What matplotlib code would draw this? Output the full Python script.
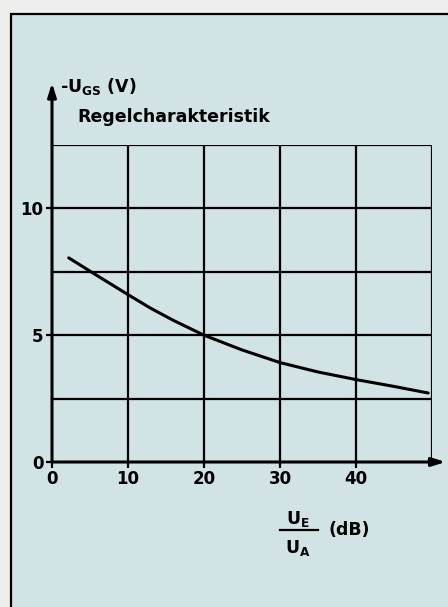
import matplotlib
matplotlib.use('Agg')
import matplotlib.pyplot as plt
from matplotlib.patches import Rectangle
from matplotlib.lines import Line2D

# Regelcharakteristik: -U_GS (V) over U_E/U_A (dB)
ratio_db = [2.2, 5.4, 10, 13, 16, 20, 25, 30, 35, 40, 45, 49.5]
ugs_neg = [8.05, 7.45, 6.6, 6.06, 5.58, 5.0, 4.42, 3.92, 3.55, 3.25, 2.98, 2.72]

x_ticks = [0, 10, 20, 30, 40, 50]
x_labels = ['0', '10', '20', '30', '40', '']
y_ticks = [0, 2.5, 5, 7.5, 10, 12.5]
y_labels = ['0', '', '5', '', '10', '']

plt.rcParams['font.family'] = 'DejaVu Sans'
plt.rcParams['font.weight'] = 'bold'
plt.rcParams['mathtext.fontset'] = 'custom'
plt.rcParams['mathtext.rm'] = 'DejaVu Sans:bold'
plt.rcParams['mathtext.it'] = 'DejaVu Sans:bold'
plt.rcParams['mathtext.bf'] = 'DejaVu Sans:bold'

dpi = 100
W, H = 448, 607
bg = '#d2e3e5'

fig = plt.figure(figsize=(W / dpi, H / dpi), dpi=dpi, facecolor='#eeefec')

# the panel frame (black line left and top, runs off the page right/bottom)
fig.patches.append(Rectangle((11 / W, -0.05), 1.0, (H - 14) / H + 0.05,
                             transform=fig.transFigure, facecolor=bg,
                             edgecolor='black', linewidth=1.6, zorder=-1))

ax = fig.add_axes([52 / W, (H - 462) / H, 380 / W, 317 / H])
ax.set_facecolor('none')
ax.set_xlim(0, 50)
ax.set_ylim(0, 12.5)
for s in ax.spines.values():
    s.set_visible(False)

ax.set_xticks(x_ticks)
ax.set_xticklabels(x_labels)
ax.set_yticks(y_ticks)
ax.set_yticklabels(y_labels)
ax.tick_params(length=4, width=1.6, direction='out', labelsize=12, pad=2)
for t, lab in zip(ax.yaxis.get_major_ticks(), y_labels):
    if lab == '':
        t.tick1line.set_visible(False)
ax.xaxis.get_major_ticks()[-1].tick1line.set_visible(False)

# grid lines
for yv in y_ticks[1:]:
    ax.axhline(yv, color='black', lw=1.6, zorder=1)
for xv in x_ticks[1:]:
    ax.axvline(xv, color='black', lw=1.6, zorder=1)

# axes with arrow heads
ax.annotate('', xy=(0, 14.95), xytext=(0, 0), annotation_clip=False,
            arrowprops=dict(arrowstyle='-|>,head_length=0.8,head_width=0.25',
                            color='black', lw=2.2, shrinkA=0, shrinkB=0))
ax.annotate('', xy=(51.8, 0), xytext=(0, 0), annotation_clip=False,
            arrowprops=dict(arrowstyle='-|>,head_length=0.8,head_width=0.25',
                            color='black', lw=2.2, shrinkA=0, shrinkB=0))

ax.plot(ratio_db, ugs_neg, color='black', lw=2.2, zorder=3,
        solid_capstyle='round', solid_joinstyle='round')

# labels
fig.text(60 / W, 1 - 92 / H, '-U$_{\\mathrm{GS}}$ (V)', fontsize=12.5,
         fontweight='bold', ha='left', va='baseline')
fig.text(77 / W, 1 - 122 / H, 'Regelcharakteristik', fontsize=12.5,
         fontweight='bold', ha='left', va='baseline')

fig.text(298 / W, 1 - 524 / H, 'U$_{\\mathrm{E}}$', fontsize=12.5,
         fontweight='bold', ha='center', va='baseline')
fig.text(298 / W, 1 - 553 / H, 'U$_{\\mathrm{A}}$', fontsize=12.5,
         fontweight='bold', ha='center', va='baseline')
fig.lines.append(Line2D([280 / W, 318 / W], [1 - 530 / H, 1 - 530 / H],
                        transform=fig.transFigure, color='black', lw=1.6))
fig.text(328 / W, 1 - 530 / H, '(dB)', fontsize=12.5, fontweight='bold',
         ha='left', va='center')

fig.savefig('out.png', dpi=dpi, facecolor=fig.get_facecolor())
